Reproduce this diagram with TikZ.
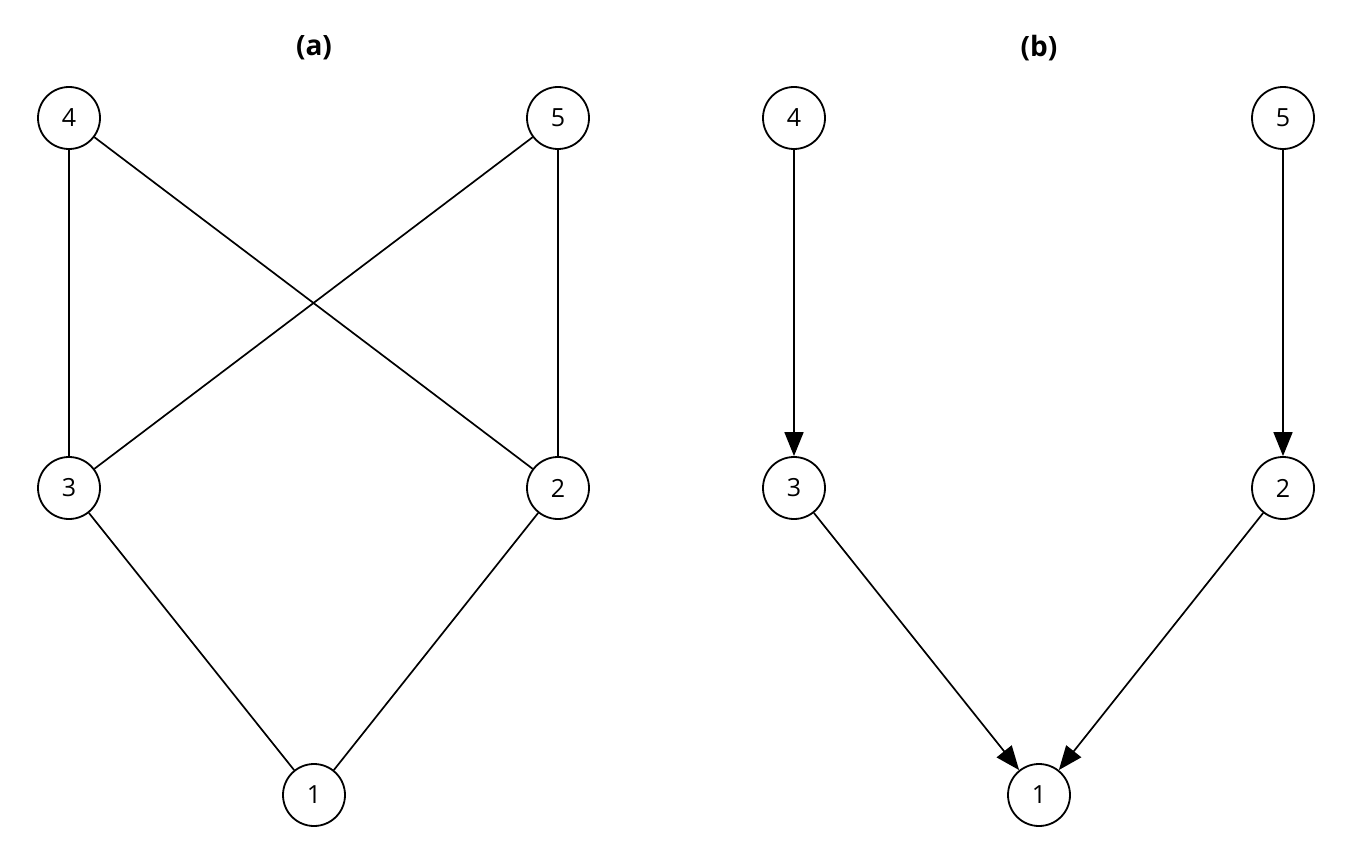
\documentclass[tikz,border=0pt]{standalone}
\usepackage{fontspec}
\setmainfont{Open Sans}
\usetikzlibrary{arrows.meta}
\newcommand{\vtxfont}{\fontsize{25pt}{28pt}\selectfont}
\newcommand{\ttlfont}{\fontsize{28pt}{32pt}\selectfont\bfseries}
\begin{document}
\begin{tikzpicture}[x=1pt,y=-1pt,
  vtx/.style={circle,draw,line width=1.8pt,minimum size=62pt,inner sep=0pt,font=\vtxfont},
  edge/.style={line width=1.7pt},
  arr/.style={line width=1.7pt,-{Triangle[length=24pt,width=19pt]}},
  ttl/.style={font=\ttlfont}]
\useasboundingbox (0,0) rectangle (1352,856);
\node[ttl] (ta) at (314,48) {(a)};
\node[ttl] (tb) at (1039,48) {(b)};
% (a)
\node[vtx] (a4) at (69,118) {4};
\node[vtx] (a5) at (558,118) {5};
\node[vtx] (a3) at (69,488) {3};
\node[vtx] (a2) at (558,488) {2};
\node[vtx] (a1) at (314,795) {1};
\draw[edge] (a4) -- (a3);
\draw[edge] (a4) -- (a2);
\draw[edge] (a5) -- (a3);
\draw[edge] (a5) -- (a2);
\draw[edge] (a3) -- (a1);
\draw[edge] (a2) -- (a1);
% (b)
\node[vtx] (b4) at (794,118) {4};
\node[vtx] (b5) at (1283,118) {5};
\node[vtx] (b3) at (794,488) {3};
\node[vtx] (b2) at (1283,488) {2};
\node[vtx] (b1) at (1039,795) {1};
\draw[arr] (b4) -- (b3);
\draw[arr] (b5) -- (b2);
\draw[arr] (b3) -- (b1);
\draw[arr] (b2) -- (b1);
\end{tikzpicture}
\end{document}
